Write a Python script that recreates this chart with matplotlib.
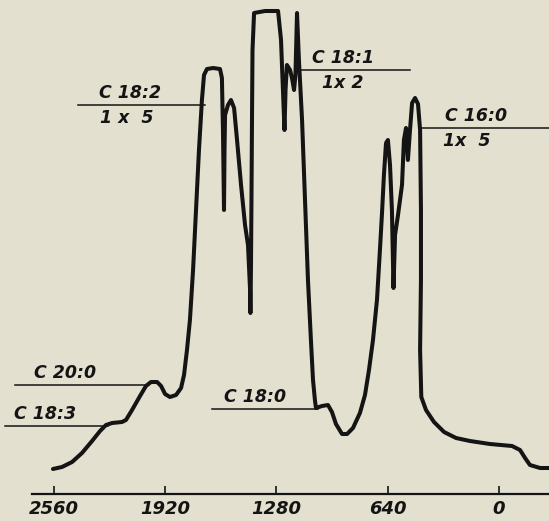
import matplotlib
matplotlib.use("Agg")
import matplotlib.pyplot as plt

# Retention axis (arbitrary units) and detector response of the traced chromatogram
retention = [2566, 2514, 2456, 2399, 2341, 2295, 2261, 2226, 2169, 2146,
             2111, 2065, 2031, 2002, 1967, 1944, 1921, 1893, 1858, 1829,
             1812, 1795, 1778, 1760, 1743, 1726, 1709, 1697, 1680, 1645,
             1605, 1594, 1588, 1582, 1579, 1576, 1559, 1542, 1524, 1507,
             1484, 1461, 1444, 1432, 1430, 1427, 1424, 1421, 1418, 1409,
             1346, 1271, 1254, 1243, 1234, 1228, 1220, 1202, 1191, 1179,
             1171, 1162, 1151, 1133, 1116, 1099, 1082, 1070, 1059, 1053,
             1018, 984, 961, 938, 903, 874, 840, 800, 771, 748,
             725, 702, 685, 673, 662, 650, 639, 627, 616, 607,
             598, 581, 558, 547, 535, 524, 512, 500, 483, 466,
             454, 449, 449, 454, 447, 420, 374, 316, 247, 167,
             52, -75, -121, -150, -178, -236, -288]
response = [25, 27, 32, 41, 53, 63, 69, 71, 72, 74,
            84, 98, 108, 112, 112, 108, 100, 97, 99, 106,
            119, 144, 174, 224, 284, 344, 394, 419, 425, 426,
            425, 416, 364, 284, 344, 379, 389, 394, 386, 354,
            309, 269, 249, 204, 181, 224, 294, 374, 444, 481,
            483, 483, 454, 404, 364, 404, 429, 424, 416, 404,
            419, 481, 434, 374, 294, 214, 154, 114, 94, 86,
            88, 89, 82, 70, 60, 60, 66, 81, 99, 124,
            154, 194, 244, 281, 319, 351, 354, 329, 284, 206,
            259, 279, 309, 354, 366, 334, 364, 391, 396, 390,
            364, 284, 214, 144, 97, 84, 72, 62, 56, 53,
            50, 48, 44, 36, 29, 26, 26]

tick_values = [2560, 1920, 1280, 640, 0]
tick_labels = ["2560", "1920", "1280", "640", "0"]

# Peak annotations: label lines (level, x start, x end) and texts
peak_names = ["C 18:2", "C 18:1", "C 16:0", "C 18:0", "C 20:0", "C 18:3"]
peak_factors = ["1 x  5", "1x 2", "1x  5", "", "", ""]
peak_levels = [389, 424, 366, 85, 109, 68]
line_starts = [2422, 1162, 454, 1651, 2784, 2842]
line_ends = [1691, 512, -288, 1041, 2019, 2249]
label_x = [2123, 897, 132, 1404, 2497, 2612]
factor_x = [2140, 897, 184, 0, 0, 0]

bg = "#e4e0cf"
ink = "#141414"

fig = plt.figure(figsize=(5.49, 5.21), dpi=100, facecolor=bg)
ax = fig.add_axes([0, 0, 1, 1])
ax.set_facecolor(bg)
ax.set_xlim(2870.6, -287.6)
ax.set_ylim(-27, 494)

ax.plot(retention, response, color=ink, lw=2.9, solid_joinstyle="round",
        solid_capstyle="round")

font = dict(family="DejaVu Sans", style="italic", weight="bold",
            fontsize=12.5, color=ink)
for name, fac, lev, x0, x1, lx, fx in zip(peak_names, peak_factors, peak_levels,
                                          line_starts, line_ends, label_x, factor_x):
    ax.plot([x0, x1], [lev, lev], color=ink, lw=1.1)
    ax.text(lx, lev + 3, name, ha="center", va="bottom", **font)
    if fac:
        ax.text(fx, lev - 4, fac, ha="center", va="top", **font)

for s in ["top", "left", "right"]:
    ax.spines[s].set_visible(False)
ax.spines["bottom"].set_position(("data", 0))
ax.spines["bottom"].set_bounds(2687, -288)
ax.spines["bottom"].set_linewidth(1.6)
ax.spines["bottom"].set_color(ink)
ax.set_xticks(tick_values)
ax.set_xticklabels(tick_labels, style="italic", weight="bold", fontsize=13,
                   color=ink)
ax.tick_params(axis="x", direction="in", length=6, width=1.2, color=ink, pad=4)
ax.set_yticks([])

fig.savefig("out.png", dpi=100, facecolor=bg)
